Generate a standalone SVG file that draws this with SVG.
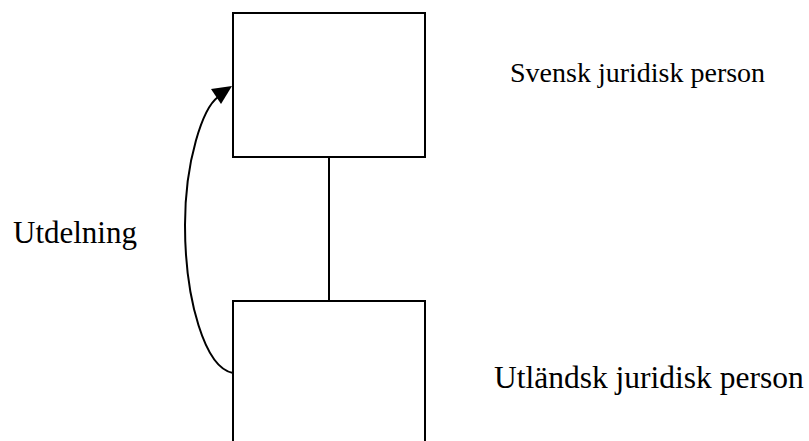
<svg xmlns="http://www.w3.org/2000/svg" width="809" height="441" viewBox="0 0 809 441">
<style>
.box{fill:none;stroke:#000;stroke-width:2}
.con{fill:none;stroke:#000;stroke-width:2}
text{font-family:'Liberation Serif',Tinos,'Times New Roman',Times,serif;fill:#000}
</style>
<rect width="809" height="441" fill="#fff"/>
<g id="node-svensk">
<rect class="box" x="233" y="13" width="192" height="144"/>
<text x="510" y="82" font-size="28" font-family="Liberation Serif">Svensk juridisk person</text>
</g>
<g id="node-utlandsk">
<rect class="box" x="233" y="301" width="192" height="160"/>
<text x="494" y="388" font-size="31.5" font-family="Liberation Serif">Utländsk juridisk person</text>
</g>
<g id="connectors">
<line class="con" x1="329" y1="157" x2="329" y2="301"/>
<path class="con" d="M233,373 C205,368 185,300 185,225 C185,160 203,108 218,97"/>
<polygon points="232,86 211,89 221,104" fill="#000"/>
<text x="13" y="243" font-size="31" font-family="Liberation Serif">Utdelning</text>
</g>
</svg>
